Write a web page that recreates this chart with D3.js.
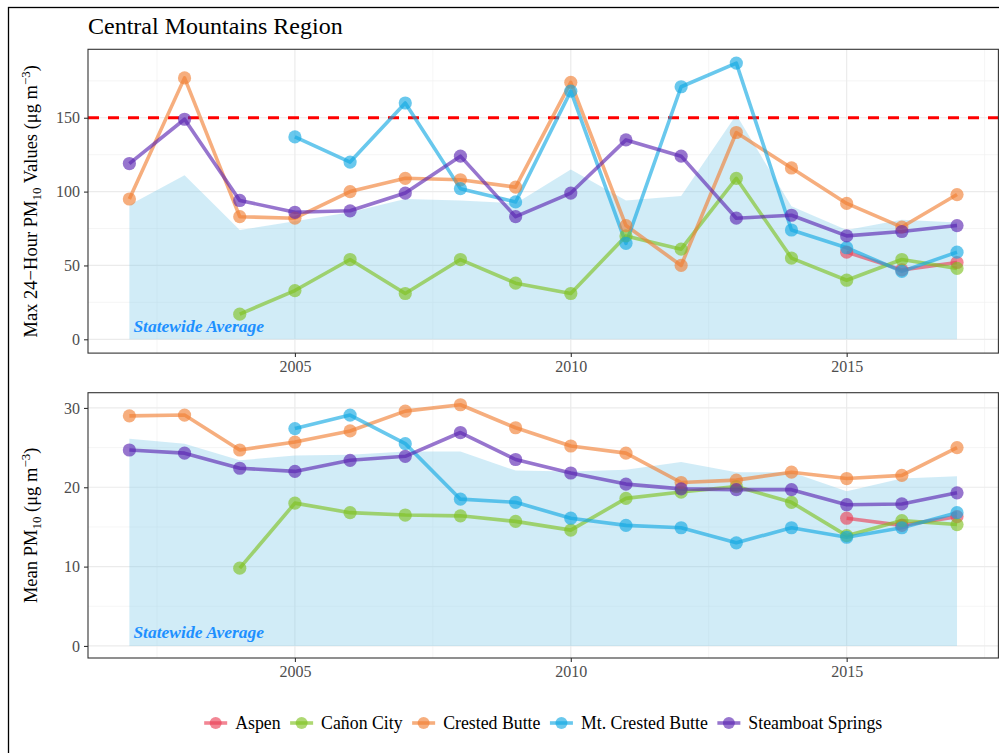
<!DOCTYPE html>
<html>
<head>
<meta charset="utf-8">
<script src="https://cdn.jsdelivr.net/npm/d3@7"></script>
<style>
  body { margin: 0; background: #fff; }
  svg text { font-family: "Liberation Serif", "DejaVu Serif", serif; }
</style>
</head>
<body>
<div id="chart"></div>
<script>
// ---- data ----
const years = [2002, 2003, 2004, 2005, 2006, 2007, 2008, 2009, 2010, 2011, 2012, 2013, 2014, 2015, 2016, 2017];
const siteNames = ["Aspen", "Cañon City", "Crested Butte", "Mt. Crested Butte", "Steamboat Springs"];
const siteColors = ["#EA3F55", "#7EC21F", "#F07E33", "#12A8E3", "#5A24B2"];

// max 24-hour values
const statewideMax = [91, 111, 74, 80, 86, 95, 94, 92, 115, 94, 97, 152, 90, 74, 81, 79];
const aspenMax     = [null, null, null, null, null, null, null, null, null, null, null, null, null, 59, 47, 52];
const canonMax     = [null, null, 17, 33, 54, 31, 54, 38, 31, 70, 61, 109, 55, 40, 54, 48];
const cbMax        = [95, 177, 83, 82, 100, 109, 108, 103, 174, 77, 50, 140, 116, 92, 76, 98];
const mtcbMax      = [null, null, null, 137, 120, 160, 102, 93, 168, 65, 171, 187, 74, 62, 46, 59];
const sbsMax       = [119, 149, 94, 86, 87, 99, 124, 83, 99, 135, 124, 82, 84, 70, 73, 77];

// annual mean values
const statewideMean = [26.1, 25.5, 23.4, 24.0, 24.1, 24.5, 24.5, 22.1, 22.0, 22.2, 23.2, 21.9, 21.9, 19.5, 21.1, 21.4];
const aspenMean     = [null, null, null, null, null, null, null, null, null, null, null, null, null, 16.1, 15.2, 16.3];
const canonMean     = [null, null, 9.8, 18.0, 16.8, 16.5, 16.4, 15.7, 14.6, 18.6, 19.4, 20.1, 18.1, 13.9, 15.8, 15.3];
const cbMean        = [29.0, 29.1, 24.7, 25.7, 27.1, 29.6, 30.4, 27.5, 25.2, 24.3, 20.6, 20.9, 21.9, 21.1, 21.5, 25.0];
const mtcbMean      = [null, null, null, 27.4, 29.1, 25.5, 18.5, 18.1, 16.1, 15.2, 14.9, 13.0, 14.9, 13.7, 14.9, 16.8];
const sbsMean       = [24.7, 24.3, 22.4, 22.0, 23.4, 23.9, 26.9, 23.5, 21.8, 20.4, 19.8, 19.7, 19.7, 17.8, 17.9, 19.3];

const maxTicks = [0, 50, 100, 150];
const meanTicks = [0, 10, 20, 30];
const xTicks = [2005, 2010, 2015];
const standardLine = 150;

const width = 999, height = 753;
const alpha = 0.63;

let svg = d3.select("#chart").append("svg")
    .attr("width", width)
    .attr("height", height);

svg.append("rect").attr("width", width).attr("height", height).attr("fill", "#fff");
// outer figure border (runs off the right/bottom edge like in the reference)
svg.append("rect")
    .attr("x", 8.5).attr("y", 7.5)
    .attr("width", 1100).attr("height", 900)
    .attr("fill", "none").attr("stroke", "#000").attr("stroke-width", 1.3);

svg.append("text")
    .attr("x", 88).attr("y", 34)
    .attr("font-size", 24)
    .attr("fill", "#000")
    .text("Central Mountains Region");

// ggplot style 5% expansion
function expand(lo, hi) {
    let d = (hi - lo) * 0.05;
    return [lo - d, hi + d];
}

const x = d3.scaleLinear().domain(expand(2002, 2017)).range([88, 998.4]);

function drawPanel(cfg) {
    let top = cfg.top, bottom = cfg.bottom;
    let allVals = cfg.series.flat().concat(cfg.statewide).filter(v => v != null);
    let y = d3.scaleLinear().domain(expand(0, d3.max(allVals))).range([bottom, top]);
    let g = svg.append("g");

    // grid
    let minorY = cfg.ticks.slice(0, -1).map((t, i) => (t + cfg.ticks[i + 1]) / 2)
        .concat([cfg.ticks[cfg.ticks.length - 1] + (cfg.ticks[1] - cfg.ticks[0]) / 2])
        .filter(v => y(v) > top);
    let minorX = [2002.5, 2007.5, 2012.5, 2017.5];
    g.selectAll(".minY").data(minorY).join("line")
        .attr("x1", x.range()[0]).attr("x2", x.range()[1])
        .attr("y1", d => y(d)).attr("y2", d => y(d))
        .attr("stroke", "#F0F0F0").attr("stroke-width", 0.7);
    g.selectAll(".minX").data(minorX).join("line")
        .attr("x1", d => x(d)).attr("x2", d => x(d))
        .attr("y1", top).attr("y2", bottom)
        .attr("stroke", "#F0F0F0").attr("stroke-width", 0.7);
    g.selectAll(".majY").data(cfg.ticks).join("line")
        .attr("x1", x.range()[0]).attr("x2", x.range()[1])
        .attr("y1", d => y(d)).attr("y2", d => y(d))
        .attr("stroke", "#EBEBEB").attr("stroke-width", 1.2);
    g.selectAll(".majX").data(xTicks).join("line")
        .attr("x1", d => x(d)).attr("x2", d => x(d))
        .attr("y1", top).attr("y2", bottom)
        .attr("stroke", "#EBEBEB").attr("stroke-width", 1.2);

    // statewide average area
    let area = d3.area()
        .x((d, i) => x(years[i]))
        .y0(y(0))
        .y1(d => y(d));
    g.append("path")
        .datum(cfg.statewide)
        .attr("d", area)
        .attr("fill", "#87CEEB")
        .attr("fill-opacity", 0.38);

    if (cfg.hline != null) {
        g.append("line")
            .attr("x1", x.range()[0]).attr("x2", x.range()[1])
            .attr("y1", y(cfg.hline)).attr("y2", y(cfg.hline))
            .attr("stroke", "#FF0000").attr("stroke-width", 2.8)
            .attr("stroke-dasharray", "11,9");
    }

    // lines first, then points
    let line = d3.line()
        .defined(d => d.v != null)
        .x(d => x(d.year))
        .y(d => y(d.v));
    cfg.series.forEach((vals, s) => {
        let pts = vals.map((v, i) => ({ year: years[i], v: v }));
        g.append("path")
            .datum(pts)
            .attr("d", line)
            .attr("fill", "none")
            .attr("stroke", siteColors[s])
            .attr("stroke-opacity", alpha)
            .attr("stroke-width", 3.6)
            .attr("stroke-linejoin", "round");
    });
    cfg.series.forEach((vals, s) => {
        let pts = vals.map((v, i) => ({ year: years[i], v: v })).filter(d => d.v != null);
        g.selectAll(null).data(pts).join("circle")
            .attr("cx", d => x(d.year))
            .attr("cy", d => y(d.v))
            .attr("r", 6.6)
            .attr("fill", siteColors[s])
            .attr("fill-opacity", alpha);
    });

    g.append("text")
        .attr("x", x(2002) + 4)
        .attr("y", y(0) - 7.5)
        .attr("font-size", 17.5)
        .attr("font-weight", "bold")
        .attr("font-style", "italic")
        .attr("fill", "#1E90FF")
        .text("Statewide Average");

    // panel border
    g.append("rect")
        .attr("x", x.range()[0]).attr("y", top)
        .attr("width", x.range()[1] - x.range()[0]).attr("height", bottom - top)
        .attr("fill", "none").attr("stroke", "#333").attr("stroke-width", 1.1);

    // axes
    let axY = g.append("g")
        .attr("transform", "translate(" + x.range()[0] + ",0)")
        .call(d3.axisLeft(y).tickValues(cfg.ticks).tickSize(4).tickPadding(4));
    let axX = g.append("g")
        .attr("transform", "translate(0," + bottom + ")")
        .call(d3.axisBottom(x).tickValues(xTicks).tickFormat(d3.format("d")).tickSize(4).tickPadding(4));
    [axY, axX].forEach(a => {
        a.select(".domain").remove();
        a.selectAll(".tick line").attr("stroke", "#333").attr("stroke-width", 1.1);
        a.selectAll(".tick text")
            .attr("font-family", "Liberation Serif, DejaVu Serif, serif")
            .attr("font-size", 16)
            .attr("fill", "#4D4D4D");
    });

    // y axis title with sub/superscripts
    let t = g.append("text")
        .attr("transform", "translate(37," + ((top + bottom) / 2) + ") rotate(-90)")
        .attr("text-anchor", "middle")
        .attr("font-size", 18.5)
        .attr("fill", "#000");
    cfg.title.forEach(p => {
        t.append("tspan")
            .attr("dy", p.dy || 0)
            .attr("font-size", p.small ? 13 : 18.5)
            .text(p.s);
    });
}

drawPanel({
    top: 49.3, bottom: 353.1,
    statewide: statewideMax,
    series: [aspenMax, canonMax, cbMax, mtcbMax, sbsMax],
    ticks: maxTicks,
    hline: standardLine,
    title: [
        { s: "Max 24\u2212Hour PM" },
        { s: "10", small: true, dy: 4 },
        { s: " Values (\u03bcg m", dy: -4 },
        { s: "\u22123", small: true, dy: -7 },
        { s: ")", dy: 7 }
    ]
});

drawPanel({
    top: 392.7, bottom: 658,
    statewide: statewideMean,
    series: [aspenMean, canonMean, cbMean, mtcbMean, sbsMean],
    ticks: meanTicks,
    hline: null,
    title: [
        { s: "Mean PM" },
        { s: "10", small: true, dy: 4 },
        { s: " (\u03bcg m", dy: -4 },
        { s: "\u22123", small: true, dy: -7 },
        { s: ")", dy: 7 }
    ]
});

// legend, centred under the panels
let legend = svg.append("g");
let cursor = 0;
siteNames.forEach((name, i) => {
    let item = legend.append("g").attr("transform", "translate(" + cursor + ",0)");
    item.append("line")
        .attr("x1", 0).attr("x2", 23)
        .attr("y1", 0).attr("y2", 0)
        .attr("stroke", siteColors[i]).attr("stroke-opacity", alpha).attr("stroke-width", 3.6);
    item.append("circle")
        .attr("cx", 11.5).attr("cy", 0).attr("r", 6)
        .attr("fill", siteColors[i]).attr("fill-opacity", alpha);
    let txt = item.append("text")
        .attr("x", 31).attr("y", 0).attr("dy", "0.33em")
        .attr("font-size", 17.8)
        .attr("fill", "#000")
        .text(name);
    cursor += 31 + txt.node().getComputedTextLength() + 9.5;
});
let legendWidth = cursor - 9.5;
legend.attr("transform", "translate(" + ((88 + 998.4) / 2 - legendWidth / 2) + ",723)");
</script>
</body>
</html>
